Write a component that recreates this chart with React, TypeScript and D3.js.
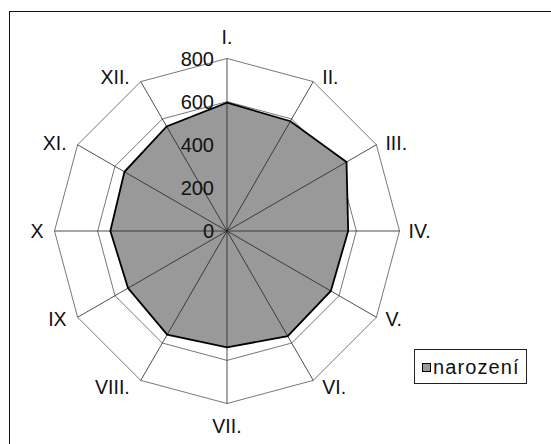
import React from "react";
import * as d3 from "d3";

const categories = ["I.", "II.", "III.", "IV.", "V.", "VI.", "VII.", "VIII.", "IX", "X", "XI.", "XII."];
const narozeni = [595, 588, 640, 562, 556, 563, 540, 555, 530, 541, 549, 560];
const ticks = [0, 200, 400, 600, 800];
const seriesName = "narození";

const W = 551;
const H = 444;
const cx = 227;
const cy = 231;
const R = 172.5;
const FONT = "'Liberation Sans', Arial, Helvetica, sans-serif";

export default function App() {
  const r = d3.scaleLinear().domain([0, 800]).range([0, R]);
  const angle = d3
    .scaleLinear()
    .domain([0, categories.length])
    .range([0, 2 * Math.PI]);

  const pt = (i: number, v: number): [number, number] => {
    const a = angle(i);
    return [cx + r(v) * Math.sin(a), cy - r(v) * Math.cos(a)];
  };

  const ringPath = (v: number) =>
    d3.line()(categories.map((_, i) => pt(i, v))) + "Z";

  const dataPath =
    d3.line()(narozeni.map((v, i) => pt(i, v))) + "Z";

  return (
    <svg
      width={W}
      height={H}
      style={{ position: "absolute", left: 0, top: 0, background: "#fff" }}
      fontFamily={FONT}
    >
      <rect x={0} y={0} width={W} height={H} fill="#fff" />
      <rect x={9.5} y={11.5} width={700} height={600} fill="none" stroke="#111" strokeWidth={1} />

      {/* rings */}
      {ticks.slice(1).map((t) => (
        <path key={t} d={ringPath(t)} fill="none" stroke="#555" strokeWidth={0.8} />
      ))}

      {/* data area */}
      <path d={dataPath} fill="#999999" stroke="none" />

      {/* spokes */}
      {categories.map((c, i) => {
        const [x, y] = pt(i, 800);
        return <line key={c} x1={cx} y1={cy} x2={x} y2={y} stroke="#222" strokeWidth={0.8} />;
      })}

      <path d={dataPath} fill="none" stroke="#000" strokeWidth={1.8} strokeLinejoin="miter" />

      {/* tick labels */}
      {ticks.map((t) => (
        <text
          key={t}
          x={cx - 13}
          y={cy - r(t)}
          textAnchor="end"
          dominantBaseline="central"
          fontSize={20}
          fill="#111"
        >
          {t}
        </text>
      ))}

      {/* category labels */}
      {categories.map((c, i) => {
        const a = angle(i);
        const s = Math.sin(a);
        const co = Math.cos(a);
        const [px, py] = pt(i, 800);
        let x = px;
        let y = py;
        let anchor: "start" | "end" | "middle" = "middle";
        if (Math.abs(s) < 0.01) {
          y = py - co * 22;
        } else {
          anchor = s > 0 ? "start" : "end";
          x = px + (s > 0 ? 9 : -11);
          y = py - co * 4 + (Math.abs(s) < 0.6 ? (co > 0 ? -1 : 3) : 0);
        }
        return (
          <text
            key={c}
            x={x}
            y={y}
            textAnchor={anchor}
            dominantBaseline="central"
            fontSize={19.5}
            fill="#111"
          >
            {c}
          </text>
        );
      })}

      {/* legend */}
      <rect x={414.5} y={349.5} width={112} height={34} fill="#fff" stroke="#222" strokeWidth={1} />
      <rect x={422.5} y={363.5} width={8} height={8} fill="#999999" stroke="#000" strokeWidth={1} />
      <text x={433} y={367} dominantBaseline="central" fontSize={20} letterSpacing={1.1} fill="#111">
        {seriesName}
      </text>
    </svg>
  );
}
